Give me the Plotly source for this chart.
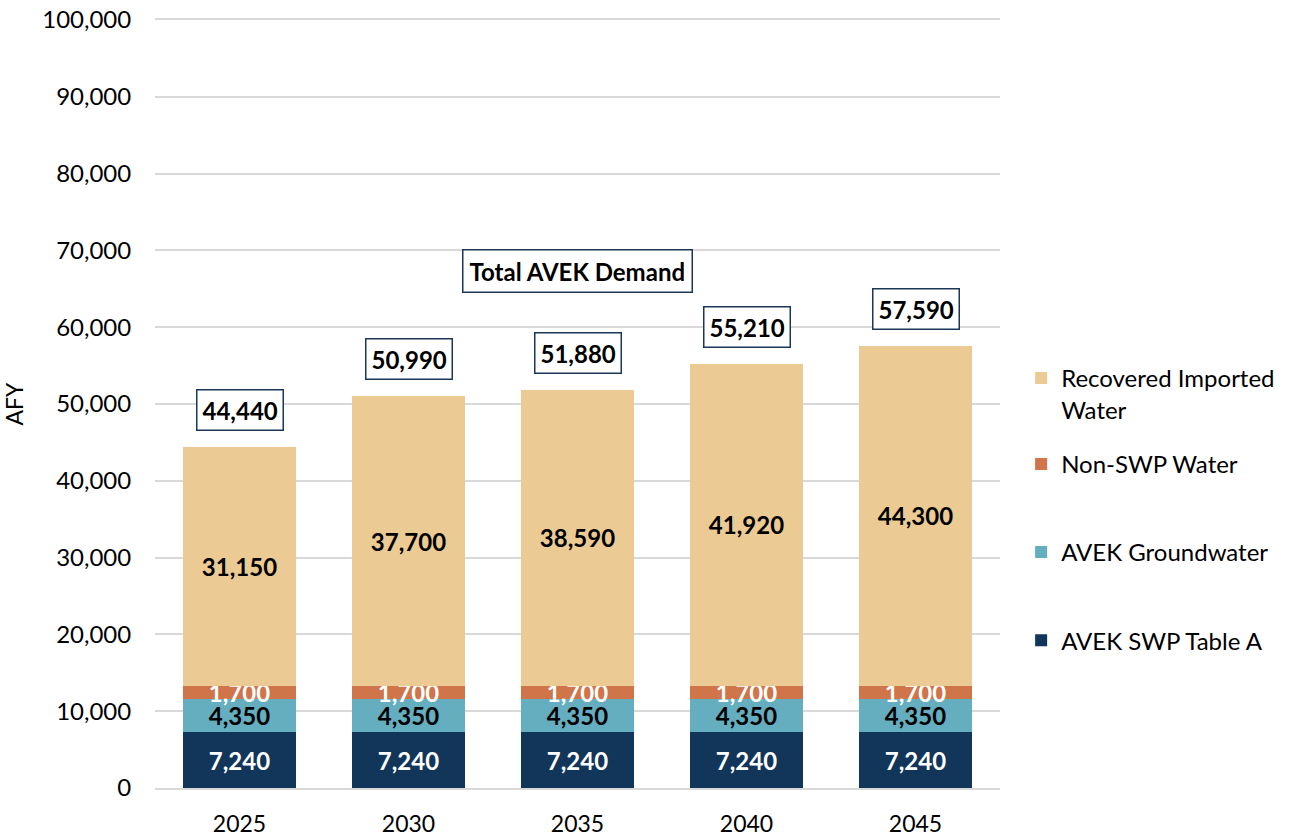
import plotly.graph_objects as go

years = ["2025", "2030", "2035", "2040", "2045"]
swp_table_a = [7240, 7240, 7240, 7240, 7240]
groundwater = [4350, 4350, 4350, 4350, 4350]
non_swp = [1700, 1700, 1700, 1700, 1700]
recovered = [31150, 37700, 38590, 41920, 44300]
totals = [44440, 50990, 51880, 55210, 57590]

series = [
    ("AVEK SWP Table A", swp_table_a, "#12355a", "white", "legend"),
    ("AVEK Groundwater", groundwater, "#64aebf", "black", "legend"),
    ("Non-SWP Water", non_swp, "#d0744a", "white", "legend"),
    ("Recovered Imported<br>Water", recovered, "#ebcb93", "black", "legend2"),
]

FONT = "Lato"
fig = go.Figure()
for i, (name, vals, color, tcolor, leg) in enumerate(series):
    fig.add_trace(go.Bar(
        x=years, y=vals, name=name, marker_color=color, marker_line_width=0,
        text=[f"<b>{v:,}</b>" for v in vals], textposition="inside",
        insidetextanchor="middle", constraintext="none", cliponaxis=False,
        textangle=0,
        textfont=dict(family=FONT, size=24, color=tcolor),
        legendgroup=str(i), legendrank=len(series) - i, legend=leg,
    ))

for i, t in enumerate(totals):
    fig.add_annotation(
        x=i, y=t, text=f"<b>{t:,}</b>", showarrow=False, yanchor="bottom",
        yshift=16, font=dict(family=FONT, size=24, color="black"),
        bordercolor="#1b3656", borderwidth=1.5, borderpad=5, bgcolor="white",
    )

fig.add_annotation(
    x=years.index("2035"), y=67300, text="<b>Total AVEK Demand</b>", showarrow=False,
    font=dict(family=FONT, size=24, color="black"),
    bordercolor="#1b3656", borderwidth=1.5, borderpad=6, bgcolor="white",
)

fig.update_layout(
    width=1294, height=836,
    barmode="stack", bargap=0.33,
    plot_bgcolor="white", paper_bgcolor="white",
    margin=dict(l=155, r=294, t=20, b=48, autoexpand=False),
    font=dict(family=FONT, size=24, color="black"),
    legend=dict(x=1.025, xanchor="left", y=0.163, yanchor="bottom",
                traceorder="grouped", tracegroupgap=54,
                font=dict(family=FONT, size=24), itemwidth=30),
    legend2=dict(x=1.025, xanchor="left", y=0.5625, yanchor="top",
                 valign="top", font=dict(family=FONT, size=24), itemwidth=30),
    xaxis=dict(type="category", range=[-0.5, len(years) - 0.5],
               showline=True, mirror=True, linecolor="#d9d9d9", linewidth=2,
               ticks="outside", ticklen=14, tickcolor="white",
               tickfont=dict(size=23)),
    yaxis=dict(range=[0, 100000], dtick=10000, tickformat=",",
               gridcolor="#d9d9d9", gridwidth=2, zeroline=False,
               showline=False, ticks="outside", ticklen=18, tickcolor="white",
               title=dict(text="AFY", standoff=27, font=dict(size=23)),
               tickfont=dict(size=24)),
)
fig.write_html("out.html", config={"displayModeBar": False},
               post_script="document.body.style.margin='0';")
